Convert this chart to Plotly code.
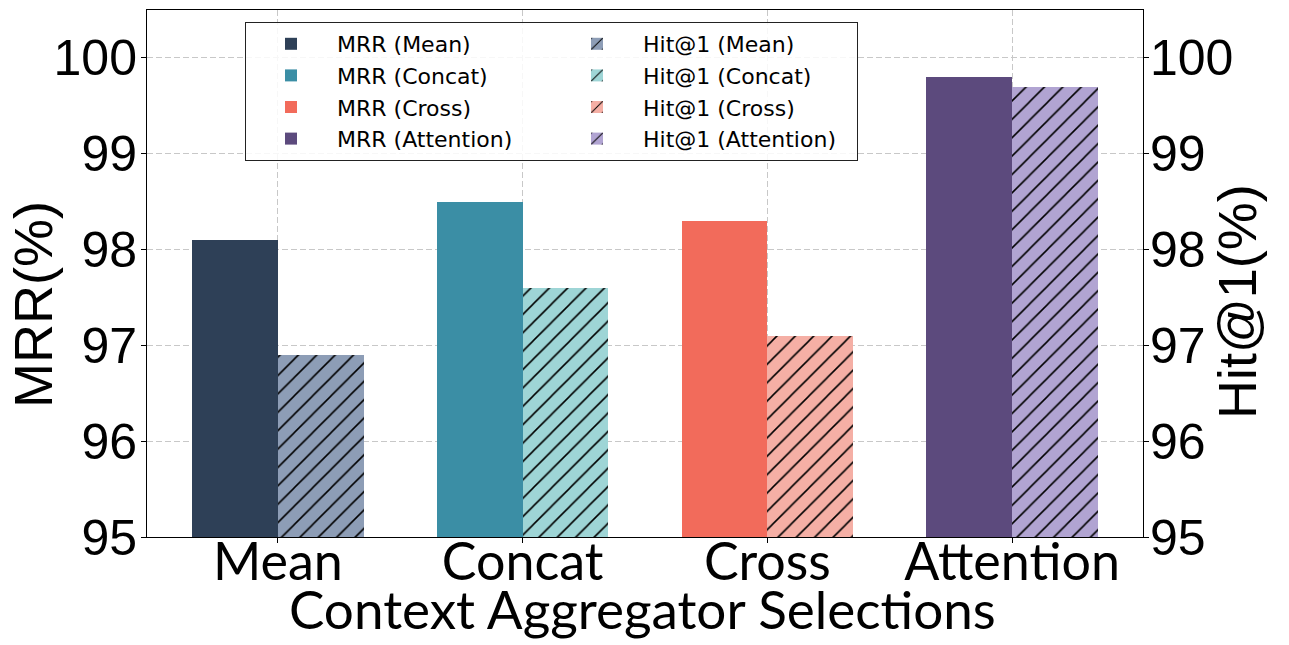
import plotly.graph_objects as go

categories = ["Mean", "Concat", "Cross", "Attention"]
mrr_values = [98.1, 98.5, 98.3, 99.8]
hit_values = [96.9, 97.6, 97.1, 99.7]
mrr_colors = ["#2E4057", "#3B8EA5", "#F26B5B", "#5C4A7D"]
hit_colors = ["#8D9DB6", "#9ED5D6", "#F5AFA5", "#B1A4D2"]
y_ticks = [95, 96, 97, 98, 99, 100]

BAR_W = 0.35
fig = go.Figure()
for i, cat in enumerate(categories):
    fig.add_trace(go.Bar(
        x=[cat], y=[mrr_values[i] - 95], base=95, width=BAR_W, offset=-BAR_W,
        name=f"MRR ({cat})", legendgroup="mrr",
        marker=dict(color=mrr_colors[i], line=dict(width=0)), yaxis="y"))
for i, cat in enumerate(categories):
    fig.add_trace(go.Bar(
        x=[cat], y=[hit_values[i] - 95], base=95, width=BAR_W, offset=0,
        name=f"Hit@1 ({cat})", legendgroup="hit",
        marker=dict(color=hit_colors[i], line=dict(width=0),
                    pattern=dict(shape="/", fgcolor="black", fgopacity=1,
                                 bgcolor=hit_colors[i], size=13, solidity=0.12)),
        yaxis="y2"))

# plot area in page pixels (page has an 8px body offset)
PX_L, PX_R, PX_T, PX_B = 147, 1143, 10, 537
def px(x):
    return (x - PX_L) / (PX_R - PX_L)
def py(y):
    return (PX_B - y) / (PX_B - PX_T)

grid = dict(gridcolor="#c8c8c8", griddash="6px,3px", gridwidth=1)
tickfont = dict(family="Liberation Sans", size=50, color="black")
title_font = dict(family="Liberation Sans", size=54, color="black")
fig.update_layout(
    width=1281, height=637,
    margin=dict(l=139, r=146, t=2, b=108, autoexpand=False),
    plot_bgcolor="white", paper_bgcolor="white",
    barmode="overlay", bargap=0,
    showlegend=True,
    legend=dict(orientation="h", x=px(245), y=py(22), xanchor="left", yanchor="top",
                traceorder="grouped", tracegroupgap=0,
                itemwidth=82, entrywidth=209, entrywidthmode="pixels",
                font=dict(family="DejaVu Sans", size=22, color="black"),
                bordercolor="#222", borderwidth=1, bgcolor="rgba(255,255,255,0.85)"),
    xaxis=dict(type="category", categoryorder="array", categoryarray=categories,
               range=[-0.535, 3.535], showline=True, linecolor="black", linewidth=1,
               mirror=True, ticks="outside", ticklen=5, tickcolor="black",
               showgrid=True, layer="above traces", **grid,
               tickfont=dict(family="Lato", size=52, color="black"),
               ticklabelstandoff=-25),
    yaxis=dict(range=[95, 100.5], tickvals=y_ticks, showline=True, linecolor="black",
               linewidth=1, ticks="outside", ticklen=5, tickcolor="black",
               showgrid=True, layer="above traces", **grid, zeroline=False,
               tickfont=tickfont, ticklabelstandoff=-6),
    yaxis2=dict(range=[95, 100.5], tickvals=y_ticks, overlaying="y", side="right",
                showline=True, linecolor="black", linewidth=1, ticks="outside",
                ticklen=5, tickcolor="black", showgrid=False, zeroline=False,
                tickfont=tickfont, ticklabelstandoff=-9),
    annotations=[
        dict(text="MRR(%)", x=px(33), y=py(305), xref="paper", yref="paper",
             textangle=-90, showarrow=False, xanchor="center", yanchor="middle",
             font=title_font),
        dict(text="Hit@1(%)", x=px(1237), y=py(302), xref="paper", yref="paper",
             textangle=-90, showarrow=False, xanchor="center", yanchor="middle",
             font=title_font),
        dict(text="Context Aggregator Selections", x=px(642), y=py(608),
             xref="paper", yref="paper", showarrow=False, xanchor="center",
             yanchor="middle", font=dict(family="Lato", size=53, color="black")),
    ],
)
fig.write_html("out.html")
